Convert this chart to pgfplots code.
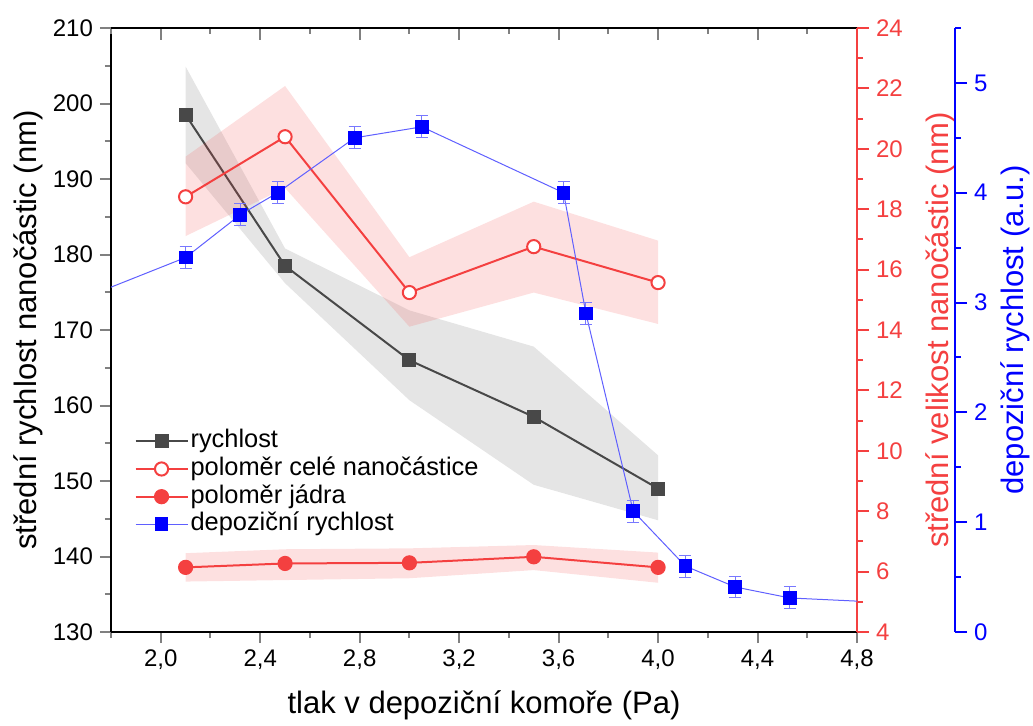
\documentclass[border=0pt]{standalone}
\usepackage{fontspec}
\setmainfont{Liberation Sans}
\usepackage{pgfplots}
\pgfplotsset{compat=1.18}
\definecolor{myred}{RGB}{244,64,64}
\definecolor{mygray}{RGB}{72,72,72}
\definecolor{myblue}{RGB}{0,0,255}
\definecolor{lineblue}{RGB}{95,95,255}
\definecolor{errblue}{RGB}{120,120,255}
\newcommand{\legfont}{\fontsize{12.7}{14}\selectfont}
\pgfplotsset{
  base/.style={width=373pt,height=302pt,scale only axis,
    xmin=1.8,xmax=4.8,
    tick label style={font=\fontsize{12}{14}\selectfont},
    /pgf/number format/assume math mode=true,
    label style={font=\fontsize{15.5}{18}\selectfont},
    major tick length=5.5pt, minor tick length=3pt,
    axis line style={line width=1pt},
    tick style={line width=1pt},
  },
}
\pgfplotstableread{
x y e
2.10 3.41 0.10
2.32 3.80 0.10
2.47 4.00 0.10
2.78 4.50 0.10
3.05 4.60 0.10
3.62 4.00 0.10
3.71 2.90 0.10
3.90 1.10 0.10
4.11 0.60 0.10
4.31 0.41 0.10
4.53 0.31 0.10
}\deptable
\begin{document}
\begin{tikzpicture}
% ---- main left axis (rychlost)
\begin{axis}[base, ymin=130, ymax=210,
  axis x line*=bottom, axis y line*=left, tick align=outside,
  xtick={2.0,2.4,2.8,3.2,3.6,4.0,4.4,4.8},
  minor xtick={1.8,2.2,2.6,3.0,3.4,3.8,4.2,4.6},
  xticklabel style={/pgf/number format/.cd, fixed, fixed zerofill, precision=1, use comma},
  ytick={130,140,150,160,170,180,190,200,210},
  minor ytick={135,145,155,165,175,185,195,205},
  xlabel={tlak v depoziční komoře (Pa)},
  xlabel style={at={(axis description cs:0.5,-0.121)}, anchor=center},
  ylabel={střední rychlost nanočástic (nm)},
  ylabel style={at={(axis description cs:-0.111,0.5)}, anchor=center},
]
\addplot[fill=mygray, fill opacity=0.14, draw=none] coordinates {
(2.1,204.9) (2.5,180.8) (3.0,172.6) (3.5,167.8) (4.0,153.4)
(4.0,144.8) (3.5,149.5) (3.0,160.7) (2.5,176.2) (2.1,192.1)} -- cycle;
\addplot[color=mygray, line width=1pt, mark=square*, mark size=3pt] coordinates {
(2.1,198.5) (2.5,178.5) (3.0,166.0) (3.5,158.5) (4.0,149.0)};
\end{axis}
% ---- top axis line with inward ticks
\begin{axis}[base, ymin=0, ymax=1,
  axis x line*=top, hide y axis, tick align=inside,
  xtick={2.0,2.4,2.8,3.2,3.6,4.0,4.4,4.8},
  minor xtick={1.8,2.2,2.6,3.0,3.4,3.8,4.2,4.6},
  xticklabels={}, major tick length=6pt]
\end{axis}
% ---- red right axis (velikost)
\begin{axis}[base, ymin=4, ymax=24,
  hide x axis, axis y line*=right, tick align=outside,
  ytick={4,6,8,10,12,14,16,18,20,22,24},
  minor ytick={5,7,9,11,13,15,17,19,21,23},
  y axis line style={myred}, tick style={myred},
  yticklabel style={myred},
  major tick length=6pt,
  ylabel={střední velikost nanočástic (nm)},
  ylabel style={myred, at={(axis description cs:1.111,0.5)}, anchor=center},
]
\addplot[fill=myred, fill opacity=0.16, draw=none] coordinates {
(2.1,19.74) (2.5,22.08) (3.0,16.41) (3.5,18.25) (4.0,16.96)
(4.0,14.20) (3.5,15.24) (3.0,14.11) (2.5,18.70) (2.1,17.11)} -- cycle;
\addplot[fill=myred, fill opacity=0.16, draw=none] coordinates {
(2.1,6.61) (2.5,6.74) (3.0,6.77) (3.5,6.88) (4.0,6.63)
(4.0,5.63) (3.5,6.05) (3.0,5.78) (2.5,5.72) (2.1,5.67)} -- cycle;
\addplot[color=myred, line width=1pt, mark=*, mark size=3.3pt, mark options={fill=white}] coordinates {
(2.1,18.41) (2.5,20.40) (3.0,15.24) (3.5,16.76) (4.0,15.57)};
\addplot[color=myred, line width=1pt, mark=*, mark size=3.3pt, mark options={fill=myred}] coordinates {
(2.1,6.14) (2.5,6.27) (3.0,6.29) (3.5,6.49) (4.0,6.14)};
\end{axis}
% ---- blue offset axis (decoration only)
\begin{axis}[base, at={(49pt,0pt)}, ymin=0, ymax=5.5,
  hide x axis, axis y line*=right, tick align=outside,
  ytick={0,1,2,3,4,5},
  minor ytick={0.5,1.5,2.5,3.5,4.5,5.5},
  y axis line style={myblue}, tick style={myblue},
  yticklabel style={myblue},
  major tick length=6pt,
  ylabel={depoziční rychlost (a.u.)},
  ylabel style={myblue, at={(axis description cs:1.0804,0.5)}, anchor=center},
]
\end{axis}
% ---- blue data + legend
\begin{axis}[base, ymin=0, ymax=5.5, hide axis,
  legend style={at={(axis description cs:0.023,0.346)}, anchor=north west,
    draw=none, fill=none, font=\legfont, row sep=0pt,
    nodes={inner sep=1pt, text height=9.2pt, text depth=2.65pt, font=\legfont}},
  legend cell align=left,
  legend image code/.code={\draw[mark repeat=2,mark phase=2] plot coordinates {(0pt,0pt)(13pt,0pt)(26pt,0pt)};},
]
\addlegendimage{color=mygray, line width=1pt, mark=square*, mark size=3pt}
\addlegendentry{rychlost}
\addlegendimage{color=myred, line width=1pt, mark=*, mark size=3.3pt, mark options={fill=white}}
\addlegendentry{poloměr celé nanočástice}
\addlegendimage{color=myred, line width=1pt, mark=*, mark size=3.3pt, mark options={fill=myred}}
\addlegendentry{poloměr jádra}
\addplot[color=lineblue, line width=0.5pt, no marks, forget plot] coordinates {(1.6,2.96) (2.10,3.41)};
\addplot[color=lineblue, line width=0.5pt, no marks, forget plot] coordinates {(4.53,0.31) (5.0,0.26)};
\addplot[color=lineblue, line width=0.5pt, mark=square*, mark size=3.2pt,
  mark options={fill=myblue, draw=myblue},
  error bars/.cd, y dir=both, y explicit,
  error bar style={color=errblue, line width=0.5pt},
  error mark options={rotate=90, mark size=3pt, color=errblue, line width=0.5pt}]
  table[x=x, y=y, y error=e] {\deptable};
\addlegendentry{depoziční rychlost}
\end{axis}
\pgfresetboundingbox
\path (-55.5pt,-46.5pt) rectangle (461pt,316pt);
\end{tikzpicture}
\end{document}
